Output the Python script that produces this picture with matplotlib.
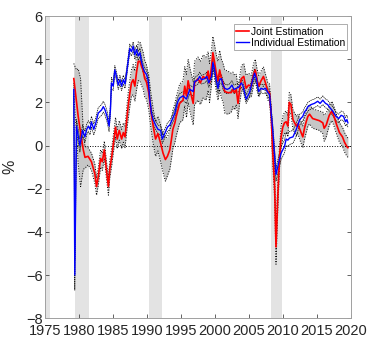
import matplotlib
matplotlib.use("Agg")
import matplotlib.pyplot as plt
import numpy as np

plt.rcParams['font.family'] = ['Liberation Sans', 'DejaVu Sans']

# Joint estimation (red) with gray band half-width
joint_x = [1979.2, 1979.6, 1979.85, 1980.2, 1980.6, 1980.85, 1981.3, 1981.8, 1982.3, 1982.55,
           1982.8, 1983.15, 1983.4, 1983.7, 1984.0, 1984.3, 1984.5, 1984.8, 1985.0, 1985.35,
           1985.6, 1985.9, 1986.25, 1986.5, 1986.75, 1987.0, 1987.2, 1987.45, 1987.7, 1987.95,
           1988.2, 1988.45, 1988.7, 1988.95, 1989.2, 1989.4, 1989.65, 1989.9, 1990.25, 1990.55,
           1990.9, 1991.25, 1991.6, 1992.0, 1992.35, 1992.7, 1993.0, 1993.35, 1993.6, 1993.8,
           1994.1, 1994.3, 1994.55, 1994.8, 1995.3, 1995.55, 1995.8, 1996.05, 1996.3, 1996.8,
           1997.0, 1997.5, 1997.85, 1998.25, 1998.7, 1999.0, 1999.2, 1999.5, 1999.7, 1999.95,
           2000.2, 2000.45, 2000.7, 2000.95, 2001.2, 2001.45, 2001.9, 2002.4, 2002.65, 2002.9,
           2003.15, 2003.4, 2003.65, 2003.9, 2004.25, 2004.6, 2004.95, 2005.35, 2005.7, 2005.95,
           2006.2, 2006.45, 2006.8, 2007.15, 2007.45, 2007.8, 2008.05, 2008.3, 2008.5, 2008.8,
           2009.0, 2009.25, 2009.5, 2009.75, 2010.0, 2010.25, 2010.5, 2010.75, 2010.95, 2011.2,
           2011.5, 2012.0, 2012.2, 2012.7, 2012.95, 2013.2, 2013.45, 2013.7, 2013.95, 2014.4,
           2014.9, 2015.4, 2015.9, 2016.1, 2016.4, 2016.85, 2017.25, 2017.6, 2017.95, 2018.35,
           2018.8, 2019.1, 2019.45, 2019.6]
joint_y = [3.1, 2.0, 1.35, 0.6, -0.2, -0.55, -0.5, -0.75, -1.3, -1.9,
           -1.45, -0.6, -0.75, -0.2, -1.1, -1.9, -1.1, -0.5, 0.0, 0.85,
           0.3, 0.7, 0.3, 0.6, 0.4, 1.2, 1.8, 2.4, 2.9, 3.05,
           2.75, 3.4, 3.9, 3.9, 3.65, 3.5, 3.1, 2.95, 2.45, 1.65,
           0.9, 0.3, 0.55, 0.1, -0.35, -0.65, -0.5, -0.2, 0.3, 0.75,
           1.05, 1.35, 1.65, 1.95, 2.1, 2.75, 2.3, 3.0, 2.6, 1.95,
           2.9, 3.1, 2.9, 3.2, 3.1, 3.45, 2.9, 3.65, 4.3, 3.85,
           3.35, 3.0, 3.5, 3.1, 2.9, 2.5, 2.45, 2.45, 2.6, 2.45,
           2.6, 1.95, 2.6, 3.1, 3.2, 2.65, 2.8, 2.75, 3.3, 3.5,
           3.05, 2.75, 3.0, 3.2, 2.9, 2.5, 2.45, 1.35, -0.2, -1.9,
           -4.7, -2.5, -0.65, 0.4, 0.85, 1.05, 1.1, 0.9, 2.0, 1.9,
           1.2, 0.9, 1.0, 0.6, 0.4, 0.8, 1.1, 1.35, 1.45, 1.25,
           1.2, 1.15, 1.05, 0.8, 0.95, 1.4, 1.6, 1.3, 0.95, 0.6,
           0.4, 0.15, -0.05, -0.1]
joint_hw = [0.7, 1.5, 2.2, 2.5, 0.9, 0.5, 0.4, 0.4, 0.45, 0.4,
            0.4, 0.4, 0.4, 0.4, 0.4, 0.4, 0.4, 0.4, 0.4, 0.45,
            0.45, 0.45, 0.45, 0.45, 0.5, 0.55, 0.6, 0.6, 0.6, 0.7,
            0.7, 0.8, 0.9, 0.9, 0.9, 0.85, 0.85, 0.8, 0.8, 0.8,
            0.8, 0.8, 0.8, 0.85, 0.9, 1.0, 0.9, 0.9, 0.9, 0.9,
            0.9, 0.9, 0.9, 0.9, 0.9, 0.9, 1.0, 1.0, 1.0, 1.0,
            1.0, 1.0, 1.0, 1.0, 1.0, 0.9, 0.9, 0.8, 0.75, 0.8,
            0.85, 0.9, 0.9, 0.9, 0.9, 1.0, 1.0, 0.9, 0.8, 0.8,
            0.7, 0.7, 0.6, 0.6, 0.6, 0.6, 0.55, 0.5, 0.5, 0.5,
            0.5, 0.5, 0.45, 0.45, 0.4, 0.4, 0.4, 0.4, 0.5, 0.6,
            0.8, 0.6, 0.5, 0.5, 0.5, 0.5, 0.5, 0.5, 0.45, 0.45,
            0.45, 0.45, 0.45, 0.5, 0.5, 0.5, 0.5, 0.45, 0.45, 0.45,
            0.45, 0.45, 0.5, 0.6, 0.55, 0.45, 0.45, 0.45, 0.45, 0.45,
            0.45, 0.45, 0.45, 0.45]

# Individual estimation (blue) with band half-width
indiv_x = [1979.2, 1979.35, 1979.6, 1980.1, 1980.5, 1980.85, 1981.1, 1981.35, 1981.6, 1981.8,
           1982.15, 1982.45, 1982.8, 1983.3, 1983.55, 1983.8, 1984.1, 1984.4, 1984.6, 1984.75,
           1985.0, 1985.25, 1985.5, 1985.75, 1986.0, 1986.25, 1986.5, 1986.75, 1987.0, 1987.2,
           1987.45, 1987.7, 1987.95, 1988.2, 1988.45, 1988.7, 1988.95, 1989.2, 1989.4, 1989.65,
           1989.9, 1990.15, 1990.4, 1990.65, 1990.9, 1991.25, 1991.6, 1992.0, 1992.25, 1992.6,
           1993.0, 1993.35, 1993.7, 1994.1, 1994.3, 1994.55, 1994.8, 1995.3, 1995.8, 1996.3,
           1996.8, 1997.0, 1997.5, 1997.75, 1998.0, 1998.5, 1998.8, 1999.1, 1999.5, 1999.7,
           1999.95, 2000.2, 2000.45, 2000.7, 2000.95, 2001.2, 2001.45, 2001.8, 2002.15, 2002.5,
           2002.8, 2003.15, 2003.5, 2003.9, 2004.1, 2004.6, 2005.1, 2005.45, 2005.85, 2006.1,
           2006.45, 2006.8, 2007.15, 2007.45, 2007.8, 2008.05, 2008.3, 2008.55, 2008.8, 2009.0,
           2009.25, 2009.75, 2010.25, 2010.5, 2010.75, 2011.0, 2011.5, 2012.0, 2012.5, 2012.95,
           2013.2, 2013.45, 2013.7, 2014.2, 2014.65, 2015.15, 2015.5, 2015.9, 2016.3, 2016.6,
           2016.95, 2017.35, 2017.85, 2018.25, 2018.6, 2018.95, 2019.25, 2019.45, 2019.6]
indiv_y = [2.6, -6.0, 0.9, 0.0, 0.7, 0.4, 0.75, 0.9, 0.75, 1.1,
           0.75, 1.05, 1.5, 1.65, 1.8, 1.65, 1.35, 0.9, 1.65, 2.9,
           2.75, 3.5, 3.2, 2.8, 3.05, 2.75, 3.05, 2.85, 3.4, 3.9,
           4.5, 4.35, 4.6, 4.2, 4.45, 4.15, 4.3, 3.85, 3.6, 3.4,
           3.3, 3.05, 2.15, 1.5, 1.2, 0.95, 0.75, 0.7, 0.3, 0.55,
           0.85, 0.95, 1.2, 1.5, 1.8, 2.05, 2.2, 2.3, 2.15, 2.6,
           2.5, 2.95, 3.05, 3.2, 3.05, 3.1, 3.2, 2.9, 3.2, 3.85,
           3.5, 3.0, 2.65, 3.05, 3.1, 2.8, 2.65, 2.6, 2.65, 2.8,
           2.6, 2.65, 2.7, 2.9, 2.8, 2.15, 2.45, 2.9, 3.35, 3.1,
           2.5, 2.65, 2.6, 2.65, 2.45, 2.35, 1.5, 0.6, -0.5, -1.35,
           -1.0, -0.35, -0.05, 0.3, 0.25, 0.35, 0.4, 0.75, 1.2, 1.35,
           1.55, 1.65, 1.8, 1.9, 1.95, 2.05, 1.95, 2.1, 1.95, 1.9,
           1.75, 1.6, 1.35, 1.25, 1.4, 1.35, 1.1, 1.2, 1.05]
indiv_hw = [0.3, 0.7, 0.3, 0.3, 0.25, 0.25, 0.25, 0.25, 0.25, 0.25,
            0.25, 0.25, 0.25, 0.25, 0.25, 0.25, 0.25, 0.25, 0.25, 0.25,
            0.2, 0.2, 0.2, 0.2, 0.2, 0.2, 0.2, 0.2, 0.2, 0.2,
            0.2, 0.2, 0.2, 0.2, 0.2, 0.2, 0.2, 0.2, 0.2, 0.2,
            0.2, 0.2, 0.2, 0.2, 0.2, 0.2, 0.2, 0.2, 0.2, 0.2,
            0.2, 0.2, 0.2, 0.2, 0.2, 0.2, 0.2, 0.2, 0.2, 0.2,
            0.2, 0.2, 0.2, 0.2, 0.2, 0.2, 0.2, 0.2, 0.2, 0.2,
            0.2, 0.2, 0.2, 0.2, 0.2, 0.2, 0.2, 0.2, 0.2, 0.2,
            0.2, 0.2, 0.2, 0.2, 0.2, 0.2, 0.2, 0.2, 0.2, 0.2,
            0.2, 0.2, 0.2, 0.2, 0.2, 0.2, 0.25, 0.3, 0.3, 0.3,
            0.3, 0.3, 0.3, 0.3, 0.3, 0.3, 0.3, 0.3, 0.25, 0.2,
            0.2, 0.2, 0.2, 0.2, 0.2, 0.2, 0.2, 0.2, 0.2, 0.2,
            0.2, 0.2, 0.2, 0.2, 0.2, 0.2, 0.2, 0.2, 0.2]

# Recession shading periods
rec_start = [1975.0, 1979.4, 1990.3, 2008.3]
rec_end = [1975.7, 1981.4, 1992.2, 2009.9]

x_ticks = [1975, 1980, 1985, 1990, 1995, 2000, 2005, 2010, 2015, 2020]
y_ticks = [-8, -6, -4, -2, 0, 2, 4, 6]

jx = np.array(joint_x); jy = np.array(joint_y); jh = np.array(joint_hw)
ix = np.array(indiv_x); iy = np.array(indiv_y); ih = np.array(indiv_hw)

fig = plt.figure(figsize=(3.67, 3.37), dpi=100)
ax = fig.add_axes([0.1234, (337 - 318.2) / 337, 0.832, (318.2 - 16.0) / 337])

for s, e in zip(rec_start, rec_end):
    ax.axvspan(s, e, color='#e3e3e3', lw=0, zorder=0)

ax.fill_between(jx, jy - jh, jy + jh, color='#c6c6c6', lw=0, zorder=1)
ax.plot(jx, jy + jh, ls=':', color='black', lw=0.7, zorder=2)
ax.plot(jx, jy - jh, ls=':', color='black', lw=0.7, zorder=2)
ax.plot(ix, iy + ih, ls='--', color='black', lw=0.5, dashes=(2, 1), zorder=2)
ax.plot(ix, iy - ih, ls='--', color='black', lw=0.5, dashes=(2, 1), zorder=2)

ax.hlines(0, 1979.25, 2020, colors='black', linestyles=':', lw=0.7, zorder=2)

ax.plot(jx, jy, color='red', lw=1.2, label='Joint Estimation', zorder=3)
ax.plot(ix, iy, color='blue', lw=1.0, label='Individual Estimation', zorder=4)

ax.set_xlim(1975, 2020)
ax.set_ylim(-8, 6)
ax.set_xticks(x_ticks)
ax.set_yticks(y_ticks)
ax.tick_params(direction='in', length=3, width=0.5, color='#262626',
               labelsize=10.5, labelcolor='#262626', top=True, right=True, pad=2)
ax.tick_params(axis='x', pad=4)
for sp in ax.spines.values():
    sp.set_color('#a0a0a0')
    sp.set_linewidth(0.7)
ax.set_ylabel('%', fontsize=11.5, color='#262626')
ax.yaxis.set_label_coords(-0.09, 0.5)

leg = ax.legend(loc='upper right', bbox_to_anchor=(0.988, 0.972), fontsize=7.4,
                handlelength=1.2, handletextpad=0.2, borderpad=0.2,
                labelspacing=0.15, borderaxespad=0.0, fancybox=False, framealpha=1)
leg.get_frame().set_edgecolor('#a0a0a0')
leg.get_frame().set_linewidth(0.6)

fig.savefig('out.png', dpi=100)
